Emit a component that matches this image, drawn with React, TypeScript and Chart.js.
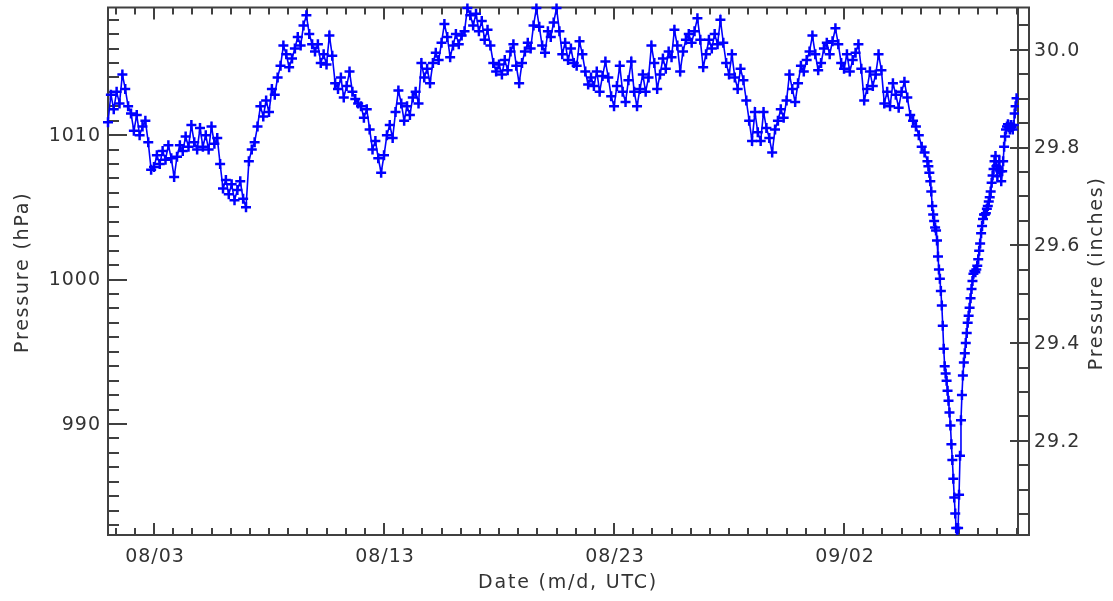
import React, { useEffect, useRef } from "react";
import { Chart, registerables } from "chart.js";

Chart.register(...registerables);

// ---- Data ----
// Hours since 08/01 00:00 UTC
const START_3H = 0; // first sample hour, 3-hourly samples
const STEP_3H = 3;
// 3-hourly pressure (hPa), 08/01 00Z .. 09/05 15Z
const pressure3h: number[] = [
  1010.9, 1012.8, 1011.8, 1013.0, 1012.2, 1014.2, 1013.2, 1012.0,
  1011.5, 1010.3, 1011.4, 1010.0, 1010.6, 1011.0, 1009.5, 1007.6,
  1007.8, 1008.6, 1008.0, 1008.9, 1008.3, 1009.3, 1008.4, 1007.1,
  1008.5, 1009.3, 1008.9, 1009.9, 1009.2, 1010.7, 1009.5, 1009.0,
  1010.5, 1009.2, 1010.0, 1009.0, 1010.6, 1009.4, 1009.8, 1008.0,
  1006.3, 1006.9, 1005.9, 1006.6, 1005.5, 1006.2, 1006.8, 1005.6,
  1005.0, 1008.2, 1009.0, 1009.5, 1010.6, 1012.0, 1011.3, 1012.4,
  1011.6, 1013.2, 1012.8, 1014.0, 1014.8, 1016.2, 1015.6, 1014.7,
  1015.3, 1016.0, 1016.8, 1016.2, 1017.6, 1018.3, 1017.0, 1016.3,
  1015.8, 1016.3, 1015.0, 1015.6, 1014.9, 1016.9, 1015.5, 1013.6,
  1013.2, 1014.0, 1012.6, 1013.4, 1014.4, 1013.0, 1012.5, 1012.2,
  1012.0, 1011.2, 1011.8, 1010.4, 1009.0, 1009.6, 1008.4, 1007.4,
  1008.6, 1010.0, 1010.7, 1009.8, 1011.6, 1013.1, 1012.2, 1011.0,
  1012.0, 1011.4, 1012.6, 1013.0, 1012.2, 1015.0, 1014.0, 1014.6,
  1013.6, 1015.0, 1015.7, 1015.2, 1016.4, 1017.7, 1016.8, 1015.4,
  1016.2, 1017.0, 1016.3, 1016.9, 1017.2, 1018.8, 1018.3, 1017.6,
  1018.4, 1017.2, 1017.9, 1016.6, 1017.3, 1016.2, 1015.0, 1014.4,
  1014.9, 1014.2, 1015.2, 1014.5, 1015.8, 1016.3, 1014.8, 1013.6,
  1015.0, 1015.8, 1016.4, 1016.0, 1017.6, 1018.8, 1017.5, 1016.2,
  1015.7, 1017.2, 1016.8, 1017.8, 1018.8, 1017.2, 1015.6, 1016.4,
  1015.2, 1016.0, 1015.0, 1014.8, 1016.5, 1015.6, 1014.4, 1013.5,
  1014.0, 1013.4, 1014.4, 1013.0, 1014.1, 1015.1, 1014.0, 1012.7,
  1012.0, 1013.4, 1014.8, 1013.0, 1012.3, 1013.8, 1015.1, 1013.0,
  1012.0, 1013.2, 1014.2, 1013.0, 1014.0, 1016.2, 1015.0, 1013.2,
  1014.2, 1015.3, 1014.6, 1015.8, 1015.4, 1017.3, 1016.2, 1014.4,
  1015.8, 1016.6, 1017.0, 1016.4, 1017.2, 1018.1, 1016.6, 1014.7,
  1015.6, 1016.6, 1016.0, 1017.0, 1016.3, 1018.0, 1016.4, 1015.0,
  1014.2, 1015.6, 1014.0, 1013.2, 1014.6, 1013.8, 1012.4, 1011.0,
  1009.6, 1011.6, 1010.2, 1009.6, 1011.6, 1010.5, 1009.8, 1008.8,
  1010.4, 1011.0, 1011.8, 1011.2, 1012.4, 1014.2, 1013.2, 1012.3,
  1013.6, 1014.8, 1014.4, 1015.2, 1015.8, 1016.9, 1015.6, 1014.5,
  1015.0, 1016.0, 1016.4, 1015.6, 1016.5, 1017.4, 1016.3, 1015.0,
  1014.6, 1015.6, 1014.4, 1015.2, 1015.7, 1016.3, 1014.6, 1012.4,
  1013.2, 1014.4, 1013.4, 1014.2, 1015.6, 1014.5, 1012.2, 1013.0,
  1012.0, 1013.6, 1012.8, 1011.9, 1013.0, 1013.7, 1012.6, 1011.4,
  1011.0, 1010.6, 1010.0, 1009.2, 1008.8, 1008.2,
];

const START_1H = 856; // hourly samples through the storm passage
const STEP_1H = 1;
const pressure1h: number[] = [
  1007.85, 1007.4, 1006.8, 1006.1, 1005.1, 1004.5, 1004.05, 1003.6, 1003.4, 1002.7,
  1001.6, 1000.7, 1000.05, 999.2, 998.2, 996.8, 995.2, 994.0, 993.5, 993.0,
  992.3, 991.6, 990.8, 989.9, 988.6, 987.5, 986.2, 984.9, 983.8, 982.8,
  981.5, 982.8, 985.1, 987.8, 990.25, 992.0, 993.35, 994.25, 994.9, 995.6,
  996.3, 997.0, 997.5, 998.05, 998.7, 999.35, 999.9, 1000.4, 1000.6, 1000.5,
  1000.7, 1000.95, 1001.4, 1002.0, 1002.5, 1003.2, 1003.7, 1004.2, 1004.5, 1004.5,
  1004.6, 1004.9, 1005.1, 1005.4, 1005.7, 1006.1, 1006.7, 1007.2, 1007.65, 1008.2,
  1008.55, 1007.85, 1007.15, 1007.65, 1008.2, 1007.5, 1006.8, 1007.5, 1008.2, 1009.2,
  1009.9, 1010.4, 1010.6, 1010.75, 1010.55, 1010.4, 1010.7, 1010.55, 1010.4, 1010.7,
  1011.5, 1012.0, 1012.55,
];

// Axes
const X_MIN_HOUR = 0;
const X_MAX_HOUR = 949.5;
const Y_MIN_HPA = 982.31;
const Y_MAX_HPA = 1018.84;
const HPA_PER_INHG = 33.8639;

const xTickHours = [48, 288, 528, 768];
const xTickLabels = ["08/03", "08/13", "08/23", "09/02"];
const xMinorStepHours = 20;
const yTickValues = [990, 1000, 1010];
const yTickLabels = ["990", "1000", "1010"];
const y2TickValues = [29.2, 29.4, 29.6, 29.8, 30.0];
const y2TickLabels = ["29.2", "29.4", "29.6", "29.8", "30.0"];

const X_TITLE = "Date (m/d, UTC)";
const Y_TITLE = "Pressure (hPa)";
const Y2_TITLE = "Pressure (inches)";

// ---- Styles ----
const W = 1113;
const H = 601;
const AXIS_COLOR = "#404040";
const TEXT_COLOR = "#333333";
const DATA_COLOR = "#0000ff";
const FONT = '"DejaVu Sans", sans-serif';

const idlAxes = {
  id: "idlAxes",
  beforeDatasetsDraw(chart: any) {
    const { ctx, chartArea } = chart;
    const { left, right, top, bottom } = chartArea;
    const x = chart.scales.x;
    const y = chart.scales.y;
    const y2 = chart.scales.y2;
    const outer = right + 11;
    ctx.save();
    ctx.strokeStyle = AXIS_COLOR;
    ctx.lineWidth = 2;
    ctx.lineCap = "butt";
    ctx.beginPath();
    // frame
    ctx.moveTo(left, top);
    ctx.lineTo(outer, top);
    ctx.moveTo(left, bottom);
    ctx.lineTo(outer, bottom);
    ctx.moveTo(left, top - 1);
    ctx.lineTo(left, bottom + 1);
    ctx.moveTo(right, top);
    ctx.lineTo(right, bottom);
    ctx.moveTo(outer, top - 1);
    ctx.lineTo(outer, bottom + 1);
    // x ticks (top and bottom)
    for (let h = xTickHours[0] - 2 * xMinorStepHours; h <= X_MAX_HOUR; h += xMinorStepHours) {
      if (h < X_MIN_HOUR) continue;
      const px = Math.round(x.getPixelForValue(h));
      const major = xTickHours.includes(h);
      const len = major ? 12 : 7;
      ctx.moveTo(px, bottom);
      ctx.lineTo(px, bottom - len);
      ctx.moveTo(px, top);
      ctx.lineTo(px, top + len);
    }
    // left y ticks
    for (let v = Math.ceil(Y_MIN_HPA); v <= Y_MAX_HPA; v += 1) {
      const py = Math.round(y.getPixelForValue(v));
      const major = v % 10 === 0;
      ctx.moveTo(left, py);
      ctx.lineTo(left + (major ? 19 : 11), py);
    }
    // right (inches) ticks
    for (let k = 0; k < 1000; k++) {
      const v = 29.0 + k * 0.05;
      if (v > y2.max) break;
      if (v < y2.min) continue;
      const py = Math.round(y2.getPixelForValue(v));
      const major = k % 4 === 0;
      ctx.moveTo(outer, py);
      ctx.lineTo(outer - (major ? 19 : 11), py);
    }
    ctx.stroke();
    ctx.restore();
  },
  afterDraw(chart: any) {
    const { ctx, chartArea } = chart;
    const { left, right, top, bottom } = chartArea;
    const x = chart.scales.x;
    const y = chart.scales.y;
    const y2 = chart.scales.y2;
    ctx.save();
    ctx.fillStyle = TEXT_COLOR;
    ctx.font = `19px ${FONT}`;
    try { (ctx as any).letterSpacing = "1px"; } catch (e) {}
    ctx.textBaseline = "middle";
    ctx.textAlign = "center";
    xTickHours.forEach((h, i) => {
      ctx.fillText(xTickLabels[i], x.getPixelForValue(h) + 1, bottom + 22);
    });
    ctx.textAlign = "right";
    yTickValues.forEach((v, i) => {
      ctx.fillText(yTickLabels[i], left - 7, y.getPixelForValue(v) + 1);
    });
    ctx.textAlign = "left";
    y2TickValues.forEach((v, i) => {
      ctx.fillText(y2TickLabels[i], right + 16, y2.getPixelForValue(v) + 1);
    });
    // titles
    try { (ctx as any).letterSpacing = "1.8px"; } catch (e) {}
    ctx.textAlign = "center";
    ctx.fillText(X_TITLE, (left + right) / 2 + 5, bottom + 48);
    const midY = (top + bottom) / 2;
    ctx.save();
    ctx.translate(23, midY + 1);
    ctx.rotate(-Math.PI / 2);
    ctx.fillText(Y_TITLE, 0, 0);
    ctx.restore();
    ctx.save();
    ctx.translate(1097, midY + 2);
    ctx.rotate(-Math.PI / 2);
    ctx.fillText(Y2_TITLE, 0, 0);
    ctx.restore();
    ctx.restore();
  },
};

export default function App() {
  const canvasRef = useRef<HTMLCanvasElement | null>(null);

  useEffect(() => {
    const canvas = canvasRef.current;
    if (!canvas) return;
    const points: { x: number; y: number }[] = [];
    pressure3h.forEach((p, i) => points.push({ x: START_3H + i * STEP_3H, y: p }));
    pressure1h.forEach((p, i) => points.push({ x: START_1H + i * STEP_1H, y: p }));

    const chart = new Chart(canvas, {
      type: "line",
      data: {
        datasets: [
          {
            data: points,
            borderColor: DATA_COLOR,
            backgroundColor: DATA_COLOR,
            borderWidth: 1.6,
            pointStyle: "cross",
            pointRadius: 5,
            pointBorderWidth: 2.5,
            pointBorderColor: DATA_COLOR,
            tension: 0,
            fill: false,
            clip: { left: 5, top: 4, right: 1, bottom: 0 } as any,
          },
        ],
      },
      options: {
        responsive: false,
        animation: false,
        devicePixelRatio: 1,
        layout: { padding: { left: 108, right: W - 1018, top: 6, bottom: H - 535 } },
        plugins: { legend: { display: false }, tooltip: { enabled: false } },
        events: [],
        scales: {
          x: { type: "linear", min: X_MIN_HOUR, max: X_MAX_HOUR, display: false },
          y: { type: "linear", min: Y_MIN_HPA, max: Y_MAX_HPA, display: false },
          y2: {
            type: "linear",
            position: "right",
            min: Y_MIN_HPA / HPA_PER_INHG,
            max: Y_MAX_HPA / HPA_PER_INHG,
            display: false,
          },
        },
      },
      plugins: [idlAxes],
    });
    return () => chart.destroy();
  }, []);

  return (
    <div style={{ position: "absolute", left: 0, top: 0, width: W, height: H, background: "#ffffff" }}>
      <canvas ref={canvasRef} width={W} height={H} style={{ display: "block" }} />
    </div>
  );
}
